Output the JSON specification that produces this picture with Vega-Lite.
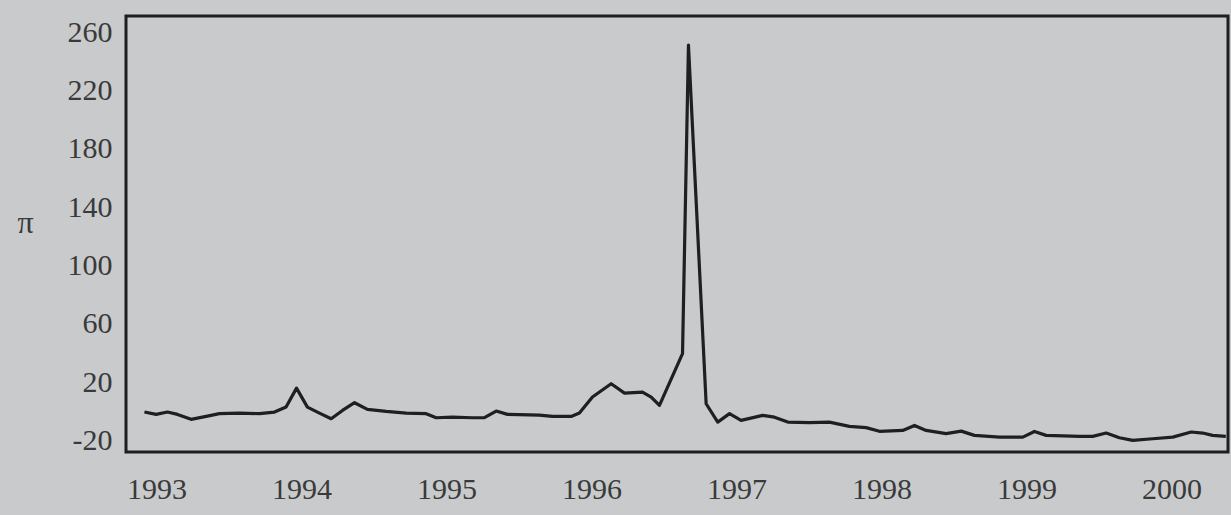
{
  "$schema": "https://vega.github.io/schema/vega-lite/v6.json",
  "autosize": "none",
  "width": 1102,
  "height": 436,
  "padding": {"left": 126, "top": 16, "right": 3, "bottom": 63},
  "background": "#c9cacb",
  "config": {
    "view": {"stroke": "#1e1e1e", "strokeWidth": 3, "fill": null},
    "axis": {
      "labelFont": "Liberation Serif",
      "labelFontSize": 30,
      "labelColor": "#3a3a3a",
      "titleFont": "Liberation Serif",
      "titleColor": "#3a3a3a",
      "titleFontWeight": "normal",
      "domain": false,
      "grid": false,
      "ticks": false,
      "tickSize": 0
    }
  },
  "data": {
    "values": [
      {"year": 1992.917, "pi": -0.6},
      {"year": 1992.998, "pi": -2.2},
      {"year": 1993.076, "pi": -0.6},
      {"year": 1993.145, "pi": -2.2},
      {"year": 1993.239, "pi": -5.6},
      {"year": 1993.343, "pi": -3.6},
      {"year": 1993.434, "pi": -1.7},
      {"year": 1993.572, "pi": -1.3},
      {"year": 1993.710, "pi": -1.7},
      {"year": 1993.814, "pi": -0.6},
      {"year": 1993.894, "pi": 2.8},
      {"year": 1993.966, "pi": 15.8},
      {"year": 1994.041, "pi": 2.8},
      {"year": 1994.124, "pi": -1.3},
      {"year": 1994.205, "pi": -5.2},
      {"year": 1994.283, "pi": 0.5},
      {"year": 1994.366, "pi": 5.8},
      {"year": 1994.455, "pi": 1.2},
      {"year": 1994.584, "pi": -0.2},
      {"year": 1994.722, "pi": -1.3},
      {"year": 1994.860, "pi": -1.7},
      {"year": 1994.929, "pi": -4.5},
      {"year": 1995.041, "pi": -4.1},
      {"year": 1995.179, "pi": -4.5},
      {"year": 1995.262, "pi": -4.5},
      {"year": 1995.343, "pi": 0.1},
      {"year": 1995.421, "pi": -2.2},
      {"year": 1995.641, "pi": -2.7},
      {"year": 1995.731, "pi": -3.6},
      {"year": 1995.860, "pi": -3.6},
      {"year": 1995.917, "pi": -1.3},
      {"year": 1996.007, "pi": 9.7},
      {"year": 1996.136, "pi": 18.8},
      {"year": 1996.228, "pi": 12.4},
      {"year": 1996.352, "pi": 13.1},
      {"year": 1996.412, "pi": 9.7},
      {"year": 1996.469, "pi": 4.0},
      {"year": 1996.628, "pi": 39.4},
      {"year": 1996.669, "pi": 251},
      {"year": 1996.791, "pi": 5.1},
      {"year": 1996.871, "pi": -7.5},
      {"year": 1996.952, "pi": -1.7},
      {"year": 1997.032, "pi": -6.3},
      {"year": 1997.181, "pi": -2.9},
      {"year": 1997.262, "pi": -4.1},
      {"year": 1997.354, "pi": -7.5},
      {"year": 1997.503, "pi": -7.9},
      {"year": 1997.641, "pi": -7.5},
      {"year": 1997.779, "pi": -10.4},
      {"year": 1997.894, "pi": -11.3},
      {"year": 1997.986, "pi": -13.8},
      {"year": 1998.147, "pi": -13.2},
      {"year": 1998.228, "pi": -9.8},
      {"year": 1998.308, "pi": -13.2},
      {"year": 1998.446, "pi": -15.4},
      {"year": 1998.550, "pi": -13.7},
      {"year": 1998.641, "pi": -16.6},
      {"year": 1998.814, "pi": -17.8},
      {"year": 1998.975, "pi": -17.8},
      {"year": 1999.055, "pi": -13.9},
      {"year": 1999.136, "pi": -16.6},
      {"year": 1999.366, "pi": -17.3},
      {"year": 1999.457, "pi": -17.3},
      {"year": 1999.550, "pi": -15.0},
      {"year": 1999.641, "pi": -18.2},
      {"year": 1999.733, "pi": -20.0},
      {"year": 1999.871, "pi": -18.9},
      {"year": 2000.009, "pi": -17.8},
      {"year": 2000.136, "pi": -14.3},
      {"year": 2000.216, "pi": -15.0},
      {"year": 2000.283, "pi": -16.6},
      {"year": 2000.375, "pi": -17.3}
    ]
  },
  "mark": {"type": "line", "stroke": "#1f1f1f", "strokeWidth": 3.2, "strokeJoin": "round"},
  "encoding": {
    "x": {
      "field": "year",
      "type": "quantitative",
      "scale": {"domain": [1992.79, 2000.39], "nice": false, "zero": false},
      "axis": {
        "values": [1993, 1994, 1995, 1996, 1997, 1998, 1999, 2000],
        "format": "d",
        "labelPadding": 22,
        "labelFlush": false,
        "labelOverlap": false,
        "title": null
      }
    },
    "y": {
      "field": "pi",
      "type": "quantitative",
      "scale": {"domain": [-28, 271], "nice": false, "zero": false},
      "axis": {
        "values": [-20, 20, 60, 100, 140, 180, 220, 260],
        "format": "d",
        "labelExpr": "replace(datum.label, '\u2212', '-')",
        "labelPadding": 14,
        "labelOverlap": false,
        "labelFlush": false,
        "title": "π",
        "titleAngle": 0,
        "titleFontSize": 32,
        "titleAlign": "center",
        "titleBaseline": "middle",
        "titleX": -101,
        "titleY": 206
      }
    }
  }
}
